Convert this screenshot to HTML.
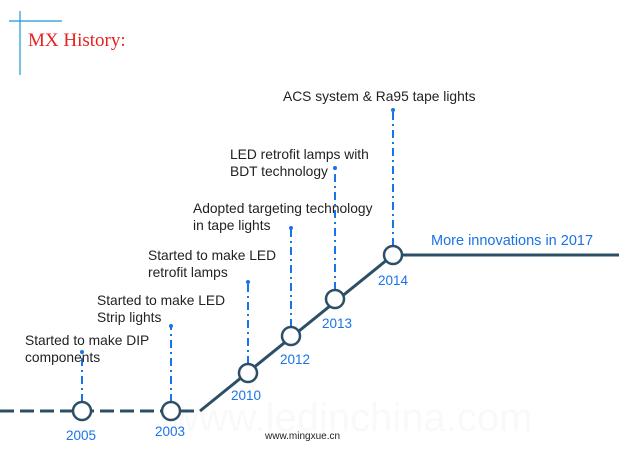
<!DOCTYPE html>
<html><head><meta charset="utf-8"><style>
body{margin:0;background:#fff}
svg{display:block}
text{font-family:"Liberation Sans",sans-serif}
</style></head><body>
<svg width="619" height="459" viewBox="0 0 619 459">
<line x1="9" y1="21" x2="62" y2="21" stroke="#1a9ad6" stroke-width="1.2"/>
<line x1="20" y1="11" x2="20" y2="75" stroke="#1a9ad6" stroke-width="1.2"/>
<text x="28" y="46" style="font-family:'Liberation Serif',serif" font-size="19" fill="#e8211d">MX History:</text>
<text x="170" y="431" font-size="40" fill="#000" opacity="0.02">www.ledinchina.com</text>
<g id="g"></g>
<text x="265" y="439" font-size="10" fill="#222">www.mingxue.cn</text>
</svg>
<script>
const years=["2005","2003","2010","2012","2013","2014"];
const descs=[["Started to make DIP","components"],["Started to make LED","Strip lights"],["Started to make LED","retrofit lamps"],["Adopted targeting technology","in tape lights"],["LED retrofit lamps with","BDT technology"],["ACS system & Ra95 tape lights"]];
const nodeX=[82,171,248,291,335,393];
const nodeY=[411,411,373,336,299,255];
const stemTop=[352,326,282,228,168,110];
const textX=[25,97,148,193,230,283];
const textY=[345,305,260,213,159,101];
const yearPos=[[66,440],[155,436],[231,400],[280,364],[322,328],[378,285]];
const NS="http://www.w3.org/2000/svg";
const g=document.getElementById('g');
function mk(t,a){const e=document.createElementNS(NS,t);for(const k in a)e.setAttribute(k,a[k]);g.appendChild(e);return e;}
let l=mk('line',{x1:0,y1:411,x2:200,y2:411,stroke:'#2d4f66','stroke-width':3,'stroke-dasharray':'14 6'});

let p=mk('polyline',{points:'200,411 393,255 619,255',fill:'none',stroke:'#2d4f66','stroke-width':3});

let m=mk('text',{x:431,y:245,'font-size':14.5,fill:'#1a73e8'});m.textContent='More innovations in 2017';

years.forEach((y,i)=>{
 const s=mk('line',{x1:nodeX[i],y1:nodeY[i]-9,x2:nodeX[i],y2:stemTop[i],stroke:'#1a73e8','stroke-width':2,'stroke-dasharray':'8 4 2 4'});
 
 const d=mk('circle',{cx:nodeX[i],cy:stemTop[i],r:2,fill:'#1a73e8'});
 
 const c=mk('circle',{cx:nodeX[i],cy:nodeY[i],r:9,fill:'#fff',stroke:'#2d4f66','stroke-width':2.5});
 
 const t=mk('text',{x:yearPos[i][0],y:yearPos[i][1],'font-size':13.5,fill:'#1a73e8'});t.textContent=y;
 
 descs[i].forEach((ln,j)=>{const e=mk('text',{x:textX[i],y:textY[i]+j*17,'font-size':13.8,fill:'#222'});e.textContent=ln;
  });
});
</script>
</body></html>
